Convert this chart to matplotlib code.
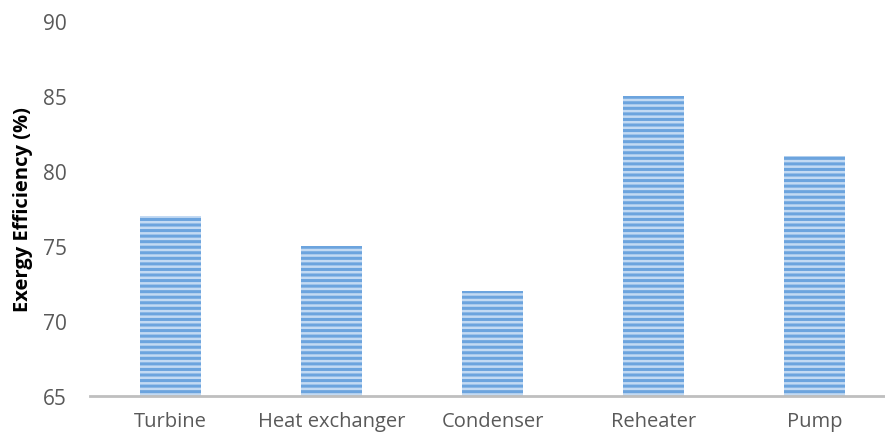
import matplotlib.pyplot as plt
import numpy as np

plt.rcParams['font.family'] = ['Open Sans', 'DejaVu Sans']
plt.rcParams['hatch.linewidth'] = 2.2

components = ['Turbine', 'Heat exchanger', 'Condenser', 'Reheater', 'Pump']
efficiency = [77, 75, 72, 85, 81]
yticks = [65, 70, 75, 80, 85, 90]

fig = plt.figure(figsize=(8.85, 4.39), dpi=100)
ax = fig.add_axes([90 / 885, 42 / 439, 805 / 885, 375 / 439])

x = np.arange(len(components))
ax.bar(x, efficiency, width=0.373, bottom=0,
       color='#c3daf3', edgecolor='#6ca4de', linewidth=0,
       hatch='---', zorder=2)

ax.set_xlim(-0.5, len(components) - 0.5)
ax.set_ylim(65, 90)
ax.set_yticks(yticks)
ax.set_xticks(x)
ax.set_xticklabels(components)
ax.tick_params(axis='both', length=0, labelsize=14.5, colors='#595959')
ax.tick_params(axis='y', labelsize=15, pad=16.5)
ax.tick_params(axis='x', pad=11)

for side in ['top', 'right', 'left']:
    ax.spines[side].set_visible(False)
ax.spines['bottom'].set_color('#bfbfbf')
ax.spines['bottom'].set_linewidth(2)
ax.spines['bottom'].set_zorder(3)

ax.set_ylabel('Exergy Efficiency (%)', fontsize=14.5, fontweight='bold',
              color='#000000')
ax.yaxis.set_label_coords(-0.071, 0.5)

fig.savefig('out.png', dpi=100)
